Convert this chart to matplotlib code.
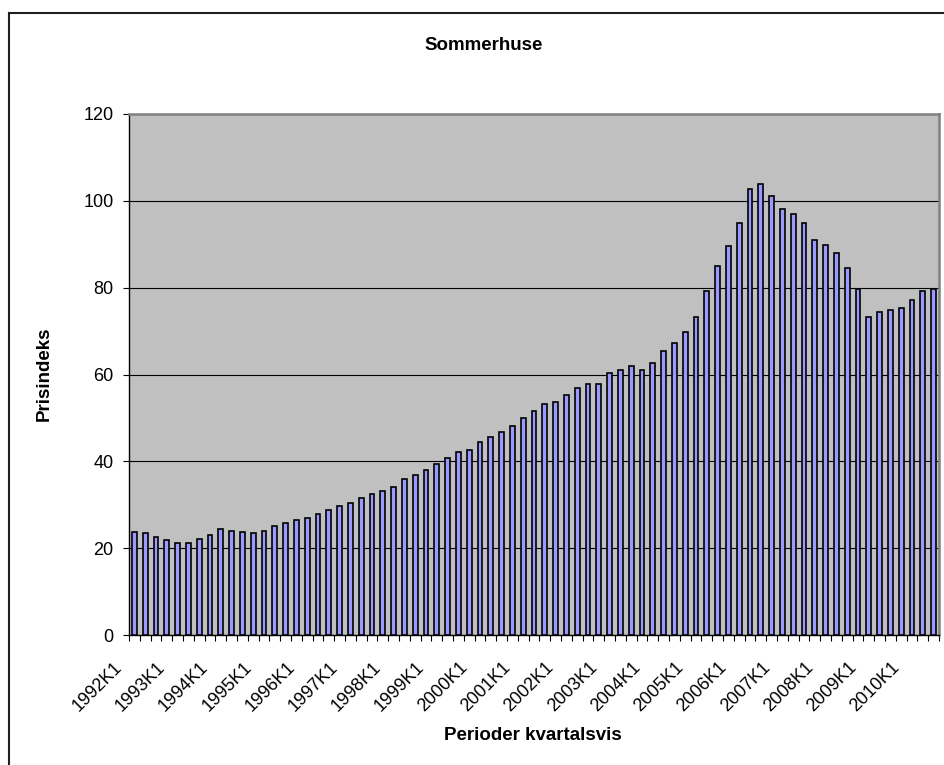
import matplotlib
matplotlib.use("Agg")
import matplotlib.pyplot as plt
import matplotlib.transforms as mtransforms
from matplotlib.lines import Line2D
import numpy as np

plt.rcParams['font.family'] = ['Liberation Sans', 'DejaVu Sans']

# ---- data ----
years = list(range(1992, 2011))
quarters = [f"{y}K{q}" for y in years for q in range(1, 5)][:75]
values = [23.8, 23.4, 22.6, 21.8, 21.3, 21.1, 22.2, 23.1, 24.4, 24.0,
          23.7, 23.6, 24.0, 25.2, 25.9, 26.4, 26.9, 27.8, 28.8, 29.6,
          30.5, 31.6, 32.5, 33.1, 34.1, 35.9, 36.8, 38.1, 39.5, 40.8,
          42.2, 42.5, 44.4, 45.7, 46.8, 48.2, 50.0, 51.7, 53.3, 53.6,
          55.2, 56.8, 57.9, 57.9, 60.4, 61.1, 61.9, 61.0, 62.6, 65.3,
          67.2, 69.8, 73.3, 79.2, 85.0, 89.7, 94.9, 102.7, 103.8, 101.1,
          98.1, 96.9, 94.9, 91.0, 89.9, 88.0, 84.6, 79.7, 73.2, 74.4,
          74.9, 75.4, 77.2, 79.3, 79.8]
yticks = [0, 20, 40, 60, 80, 100, 120]
title = "Sommerhuse"
ylabel = "Prisindeks"
xlabel = "Perioder kvartalsvis"

W, H = 944, 765
fig = plt.figure(figsize=(W / 100, H / 100), dpi=100)
fig.patch.set_facecolor('white')

left, right, top, bottom = 129, 939, 114, 635
ax = fig.add_axes([left / W, 1 - bottom / H, (right - left) / W, (bottom - top) / H])
ax.set_facecolor('#C0C0C0')

x = np.arange(len(values))
ax.bar(x, values, width=0.44, color='#9999FF', edgecolor='black', linewidth=1.2, zorder=3)

ax.set_xlim(-0.5, len(values) - 0.5)
ax.set_ylim(0, 120)
ax.set_yticks(yticks)
ax.set_yticklabels([str(v) for v in yticks], fontsize=13)
ax.yaxis.grid(True, color='black', linewidth=0.8, zorder=1)
ax.set_axisbelow(True)

# x labels every 4th quarter
lab_idx = list(range(0, len(values), 4))
ax.set_xticks(lab_idx)
ax.set_xticklabels([quarters[i] for i in lab_idx], fontsize=13, rotation=45,
                   ha='right', va='top', rotation_mode='anchor')
ax.set_xticks(np.arange(-0.5, len(values), 1.0), minor=True)
ax.tick_params(axis='x', which='major', length=0, pad=17)
ax.tick_params(axis='x', which='minor', length=4.5, width=0.8, color='black')
ax.tick_params(axis='y', which='major', length=4, width=0.8, pad=7, color='black')
off = mtransforms.ScaledTranslation(-21 / 100, 0, fig.dpi_scale_trans)
for lab in ax.get_xticklabels():
    lab.set_transform(lab.get_transform() + off)

for s in ['left', 'bottom']:
    ax.spines[s].set_color('black')
    ax.spines[s].set_linewidth(1.0)
for s in ['top', 'right']:
    ax.spines[s].set_color('#808080')
    ax.spines[s].set_linewidth(1.8)

fig.text(484 / W, 1 - 45 / H, title, fontsize=13.5, fontweight='bold', ha='center', va='center')
fig.text(44 / W, 1 - 374 / H, ylabel, fontsize=13.5, fontweight='bold', ha='center', va='center', rotation=90)
fig.text(533 / W, 1 - 736 / H, xlabel, fontsize=13.5, fontweight='bold', ha='center', va='center')

# chart border (left and top visible)
fig.add_artist(Line2D([8.5 / W, 8.5 / W], [0, 1 - 12.5 / H], transform=fig.transFigure, color='#202020', linewidth=1.5))
fig.add_artist(Line2D([8.5 / W, 1], [1 - 12.5 / H, 1 - 12.5 / H], transform=fig.transFigure, color='#202020', linewidth=1.5))

fig.savefig('out.png', dpi=100)
